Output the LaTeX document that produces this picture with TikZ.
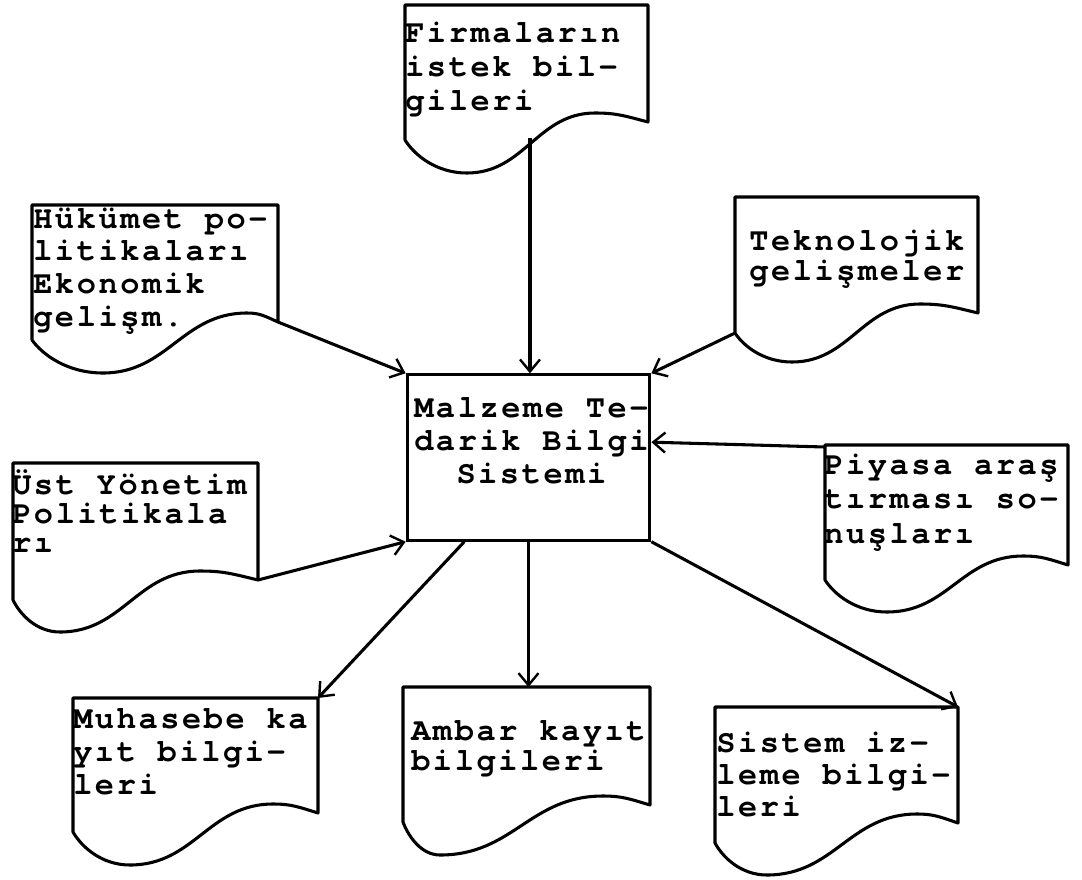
\documentclass[tikz,border=0pt]{standalone}
\usepackage{fontspec}
\usetikzlibrary{arrows.meta}
\newfontfamily\tw{texgyrecursor-bold}[Extension=.otf,LetterSpace=8]

% left-aligned / centred line stacks whose baseline is the first line's
\newcommand{\tlines}[2]{\vtop{\baselineskip=#1\lineskiplimit=-100pt\halign{##\hfil\cr#2\crcr}}}
\newcommand{\clines}[2]{\vtop{\baselineskip=#1\lineskiplimit=-100pt\halign{\hfil##\hfil\cr#2\crcr}}}

\tikzset{
  docline/.style={line width=2.3pt, line join=round, line cap=round},
  conn/.style={line width=2.3pt, -{Straight Barb[length=9pt,width=15pt,line width=1.8pt]}},
  txt/.style={anchor=base west, inner sep=0pt, font=\tw\fontsize{24}{26}\selectfont},
  centerbox/.style={draw, line width=2.3pt, inner sep=0pt,
    minimum width=182pt, minimum height=124pt},
}

% document symbol: name, x left, y top, x right, y right bottom, y left bottom,
% trough x, trough y, crest x (crest lies a little above the right bottom corner)
\newcommand{\tdoc}[9]{%
  \coordinate (#1-nw) at (#2,#3);
  \coordinate (#1-ne) at (#4,#3);
  \coordinate (#1-se) at (#4,#5);
  \coordinate (#1-sw) at (#2,#6);
  \pgfmathsetmacro{\cy}{#5-9}%
  \pgfmathsetmacro{\aax}{#4-0.45*(#4-#9)}\pgfmathsetmacro{\aay}{\cy+0.3*(#5-\cy)}%
  \pgfmathsetmacro{\abx}{#9+0.4*(#4-#9)}%
  \pgfmathsetmacro{\bax}{#9-0.45*(#9-#7)}\pgfmathsetmacro{\bbx}{#7+0.45*(#9-#7)}%
  \pgfmathsetmacro{\cax}{#7-0.5*(#7-#2)}%
  \pgfmathsetmacro{\cbx}{#2+0.15*(#7-#2)}\pgfmathsetmacro{\cby}{#6+0.45*(#8-#6)}%
  \draw[docline] (#1-sw) -- (#1-nw) -- (#1-ne) -- (#1-se)
    .. controls (\aax,\aay) and (\abx,\cy) .. (#9,\cy)
    .. controls (\bax,\cy) and (\bbx,#8) .. (#7,#8)
    .. controls (\cax,#8) and (\cbx,\cby) .. (#1-sw);
}

\begin{document}
\begin{tikzpicture}[x=0.75pt,y=-0.75pt]
  \useasboundingbox[fill=white] (0,0) rectangle (1082,879);

  % central system box
  \node[centerbox] (mtbs) at (528.5,457.5) {};
  \node[txt] (mtbs-t) at (414,417) {\clines{24.75pt}{Malzeme Te-\cr darik Bilgi\cr Sistemi}};

  % input documents
  \tdoc{firm}{405}{5}{648}{122}{140}{467}{173}{595}
  \node[txt] (firm-t) at (405,42) {\tlines{25.5pt}{Firmaların\cr istek bil-\cr gileri}};

  \tdoc{huk}{32}{205}{278}{322}{340}{103}{373}{247}
  \node[txt] (huk-t) at (33,228) {\tlines{24.5pt}{Hükümet po-\cr litikaları\cr Ekonomik\cr gelişm.}};

  \tdoc{tek}{735}{197}{978}{313}{333}{792}{362}{920}
  \node[txt] (tek-t) at (749,250) {\tlines{22.5pt}{Teknolojik\cr gelişmeler}};

  \tdoc{ust}{13}{463}{258}{580}{600}{60}{632}{200}
  \node[txt] (ust-t) at (12,494) {\tlines{22pt}{Üst Yönetim\cr Politikala\cr rı}};

  \tdoc{piy}{825}{445}{1068}{565}{580}{887}{612}{1023}
  \node[txt] (piy-t) at (824,474) {\tlines{26pt}{Piyasa araş\cr tırması so-\cr nuşları}};

  % output documents
  \tdoc{muh}{73}{698}{318}{813}{832}{130}{865}{273}
  \node[txt] (muh-t) at (73,728) {\tlines{24.75pt}{Muhasebe ka\cr yıt bilgi-\cr leri}};

  \tdoc{amb}{403}{687}{650}{805}{822}{440}{855}{603}
  \node[txt] (amb-t) at (411,740) {\tlines{22.5pt}{Ambar kayıt\cr bilgileri}};

  \tdoc{sis}{715}{707}{958}{823}{843}{767}{875}{917}
  \node[txt] (sis-t) at (716,752) {\tlines{24pt}{Sistem iz-\cr leme bilgi-\cr leri}};

  % flows into the system
  \coordinate (firm-out) at (530,138);
  \draw[conn] (firm-out) -- (firm-out |- mtbs.north);
  \draw[conn] (huk-se) -- (mtbs.north west);
  \draw[conn] (tek-sw) -- (mtbs.north east);
  \draw[conn] ([yshift=-1.5pt]piy-nw) -- ([yshift=11.5pt]mtbs.east);
  \draw[conn] (ust-se) -- (mtbs.south west);

  % flows out of the system
  \draw[conn] ([xshift=44pt]mtbs.south west) -- (muh-ne);
  \draw[conn] (mtbs.south) -- (mtbs.south |- amb-nw);
  \draw[conn] (mtbs.south east) -- (sis-ne);
\end{tikzpicture}
\end{document}
